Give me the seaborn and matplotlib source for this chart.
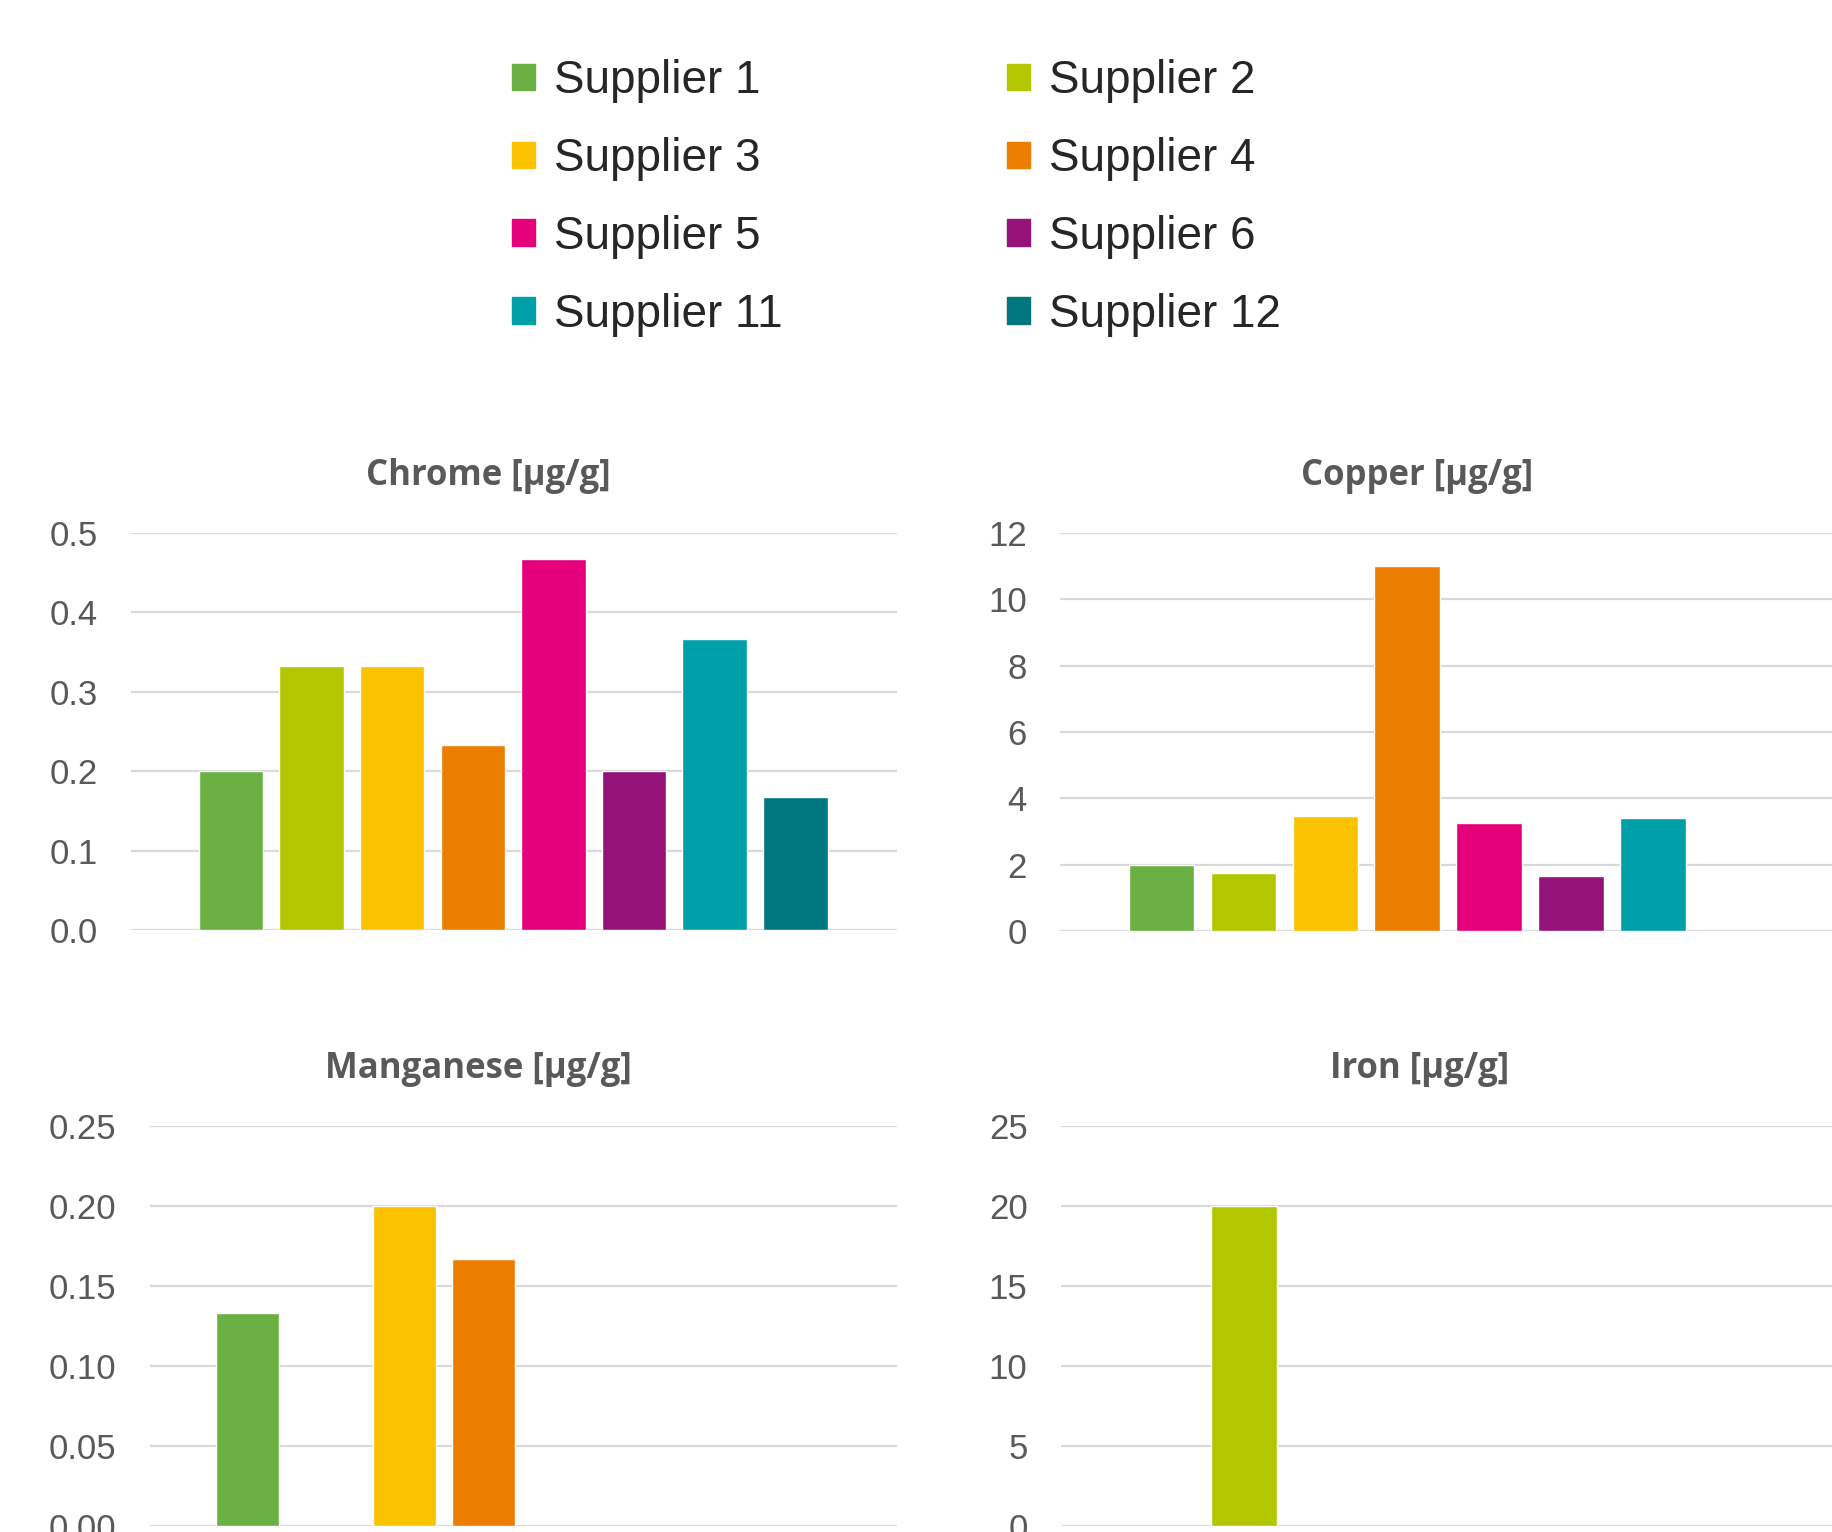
import numpy as np
import pandas as pd
import seaborn as sns
import matplotlib.pyplot as plt
from matplotlib.patches import Patch
from matplotlib.ticker import FormatStrFormatter

# data
suppliers = ['Supplier 1', 'Supplier 2', 'Supplier 3', 'Supplier 4',
             'Supplier 5', 'Supplier 6', 'Supplier 11', 'Supplier 12']
chrome = [0.20, 0.333, 0.333, 0.233, 0.467, 0.20, 0.367, 0.167]
copper = [2.0, 1.76, 3.46, 11.0, 3.26, 1.66, 3.40, np.nan]
manganese = [0.133, np.nan, 0.20, 0.167, np.nan, np.nan, np.nan, np.nan]
iron = [np.nan, 20.0, np.nan, np.nan, np.nan, np.nan, np.nan, np.nan]

colors = ['#6AB042', '#B2C700', '#FBC200', '#EB7D00',
          '#E3007A', '#941279', '#00A0AB', '#00767F']
palette = dict(zip(suppliers, colors))

sns.set_theme(style='white')
tick_font = ['Liberation Sans Narrow', 'Liberation Sans', 'DejaVu Sans']
grey = '#595959'

fig = plt.figure(figsize=(18.32, 15.32), dpi=100)

panels = [
    # values, title, ymax, step, fmt, axes rect, title x
    (chrome, 'Chrome [µg/g]', 0.5, 0.1, '%.1f', [0.0715, 0.3930, 0.4181, 0.2591], 0.466),
    (copper, 'Copper [µg/g]', 12, 2, '%d', [0.5786, 0.3923, 0.4247, 0.2598], 0.459),
    (manganese, 'Manganese [µg/g]', 0.25, 0.05, '%.2f', [0.0819, 0.0039, 0.4077, 0.2611], 0.439),
    (iron, 'Iron [µg/g]', 25, 5, '%d', [0.5791, 0.0039, 0.4241, 0.2611], 0.462),
]

for values, title, ymax, step, fmt, rect, tx in panels:
    ax = fig.add_axes(rect)
    df = pd.DataFrame({'supplier': suppliers, 'value': values})
    sns.barplot(data=df, x='supplier', y='value', hue='supplier',
                order=suppliers, hue_order=suppliers, palette=palette,
                dodge=False, width=0.8, errorbar=None, legend=False,
                saturation=1, ax=ax)
    ax.set_xlim(-1.24, 8.26)
    ax.set_ylim(0, ymax)
    ax.set_yticks(np.arange(0, ymax + step / 2, step))
    ax.yaxis.set_major_formatter(FormatStrFormatter(fmt))
    ax.set_xticks([])
    ax.set_xlabel('')
    ax.set_ylabel('')
    ax.grid(axis='y', color='#D9D9D9', linewidth=1.6)
    ax.set_axisbelow(True)
    for s in ax.spines.values():
        s.set_visible(False)
    ax.tick_params(axis='y', length=0, pad=24, labelsize=25, labelcolor=grey)
    for lab in ax.get_yticklabels():
        lab.set_family(tick_font)
    ax.text(tx, 1.12, title, transform=ax.transAxes, ha='center', va='baseline',
            fontsize=25, fontweight='bold', color=grey,
            family=['Open Sans', 'DejaVu Sans'])

# legend, two columns filled row by row
handles = [Patch(color=palette[s], label=s) for s in suppliers]
for col, x0 in [(0, 0.2795), (1, 0.5497)]:
    hs = handles[col::2]
    fig.legend(handles=hs, labels=[h.get_label() for h in hs],
               loc='upper left', bbox_to_anchor=(x0, 0.9615), frameon=False,
               prop={'family': tick_font, 'size': 33},
               handlelength=0.5, handleheight=0.5, handletextpad=0.42,
               labelspacing=0.74, borderpad=0, borderaxespad=0)

plt.savefig('out.png', dpi=100)
